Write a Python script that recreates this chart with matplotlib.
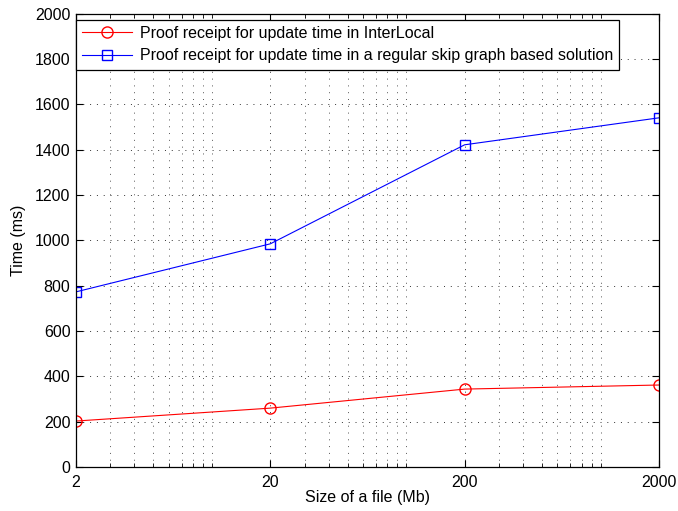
import matplotlib
matplotlib.use('Agg')
import matplotlib.pyplot as plt
from matplotlib.ticker import FixedLocator, NullFormatter

plt.rcParams['font.family'] = ['Liberation Sans', 'DejaVu Sans']
plt.rcParams['font.size'] = 11.5

# file sizes (Mb) and times (ms)
sizes = [2, 20, 200, 2000]
interlocal = [203, 260, 344, 362]
skip_graph = [773, 985, 1422, 1541]
xticks = [2, 20, 200, 2000]
xticklabels = ["2", "20", "200", "2000"]
yticks = list(range(0, 2001, 200))

fig = plt.figure(figsize=(6.78, 5.11), dpi=100)
ax = fig.add_axes([0.112, 0.086, 0.860, 0.887])

ax.plot(sizes, interlocal, color='red', marker='o', markersize=8,
        markerfacecolor='none', linewidth=0.8,
        label='Proof receipt for update time in InterLocal')
ax.plot(sizes, skip_graph, color='blue', marker='s', markersize=7,
        markerfacecolor='none', linewidth=0.8,
        label='Proof receipt for update time in a regular skip graph based solution')

ax.set_xscale('log')
ax.set_xlim(2, 2000)
ax.set_ylim(0, 2000)
ax.set_xticks(xticks)
ax.set_xticklabels(xticklabels)
# minor ticks at 3..9 of every decade
minors = [k * 10**e for e in range(0, 4) for k in range(1, 10)]
minors = [v for v in minors if 2 < v < 2000 and v not in xticks]
ax.xaxis.set_minor_locator(FixedLocator(minors))
ax.xaxis.set_minor_formatter(NullFormatter())
ax.set_yticks(yticks)

ax.tick_params(which='both', direction='in', top=True, right=True, labelsize=11.5)
ax.tick_params(which='major', length=5, pad=4)
ax.tick_params(which='minor', length=3)
ax.tick_params(axis='x', pad=6)

ax.grid(True, which='major', linestyle=(0, (1, 6)), color='#333333', linewidth=0.7)
ax.grid(True, which='minor', axis='x', linestyle=(0, (1, 6)), color='#555555', linewidth=0.7)

for s in ax.spines.values():
    s.set_linewidth(0.9)

ax.set_xlabel('Size of a file (Mb)', fontsize=11.5, labelpad=0)
ax.set_ylabel('Time (ms)', fontsize=11.5, labelpad=6)

leg = ax.legend(loc='upper left', bbox_to_anchor=(0, 0.987), borderaxespad=0,
                fancybox=False, framealpha=1, edgecolor='black', fontsize=11.5,
                handlelength=3.1, handletextpad=0.5, labelspacing=0.45,
                borderpad=0.4)
leg.get_frame().set_linewidth(0.9)

fig.savefig('out.png', dpi=100)
